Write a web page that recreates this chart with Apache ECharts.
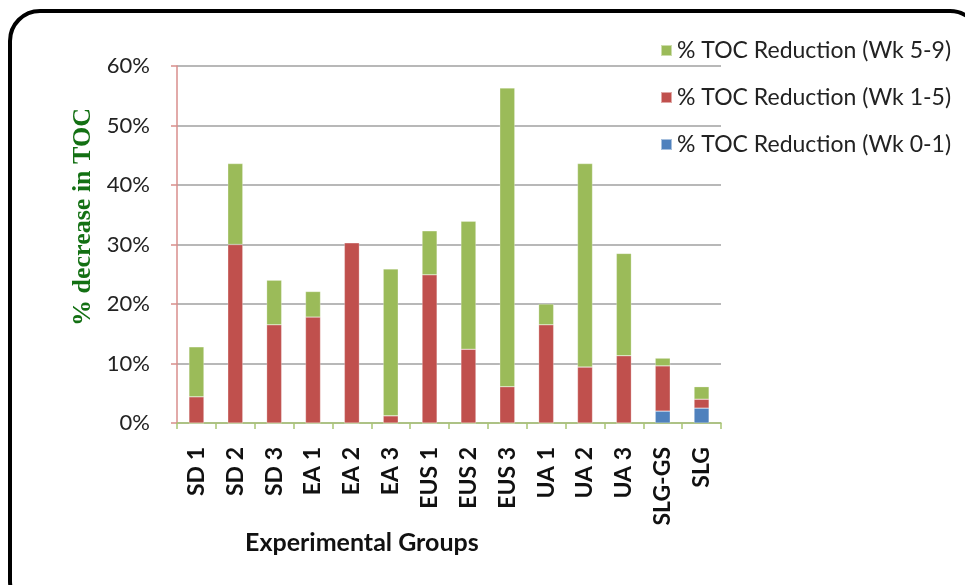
<!DOCTYPE html>
<html>
<head>
<meta charset="utf-8">
<script src="https://cdn.jsdelivr.net/npm/echarts@6/dist/echarts.min.js"></script>
<style>
  html, body { margin: 0; padding: 0; background: #fff; }
  #chart { width: 965px; height: 585px; }
</style>
</head>
<body>
<div id="chart"></div>
<script>
// groups along the x axis
const groups = ['SD 1', 'SD 2', 'SD 3', 'EA 1', 'EA 2', 'EA 3', 'EUS 1', 'EUS 2', 'EUS 3', 'UA 1', 'UA 2', 'UA 3', 'SLG-GS', 'SLG']

// stacked increments, in %
const wk01 = [0, 0, 0, 0, 0, 0, 0, 0, 0, 0, 0, 0, 2.0, 2.5]
const wk15 = [4.4, 30.0, 16.5, 17.8, 30.3, 1.2, 24.9, 12.4, 6.1, 16.5, 9.4, 11.3, 7.6, 1.5]
const wk59 = [8.4, 13.6, 7.5, 4.3, 0, 24.7, 7.4, 21.5, 50.2, 3.5, 34.2, 17.2, 1.3, 2.1]

const seriesNames = ['% TOC Reduction (Wk 0-1)', '% TOC Reduction (Wk 1-5)', '% TOC Reduction (Wk 5-9)']
const seriesColors = ['#4F81BD', '#C0504D', '#9BBB59']

const font = 'Lato, "Open Sans", sans-serif'

const chart = echarts.init(document.getElementById('chart'))

const makeBar = (name, data, color) => ({
  name,
  type: 'bar',
  stack: 'toc',
  data,
  barWidth: 15,
  itemStyle: { color, borderColor: 'rgba(255,255,255,0.5)', borderWidth: 0.5 }
})

const option = {
  animation: false,
  backgroundColor: '#fff',
  graphic: [
    {
      type: 'rect',
      shape: { x: 10, y: 11, width: 970, height: 600, r: 30 },
      style: { fill: 'none', stroke: '#000', lineWidth: 4 },
      z: 100
    },
    {
      type: 'text',
      left: 245,
      top: 530,
      style: {
        text: 'Experimental Groups',
        font: 'bold 25px ' + font,
        fill: '#111'
      }
    },
    {
      // rotated y axis title, placed a bit above the axis middle like the original
      type: 'text',
      x: 83,
      y: 217,
      rotation: Math.PI / 2,
      style: {
        text: '% decrease in TOC',
        font: 'bold 26px "Liberation Serif", "DejaVu Serif", serif',
        fill: '#137013',
        align: 'center',
        verticalAlign: 'middle'
      }
    }
  ],
  legend: {
    orient: 'vertical',
    left: 655,
    top: 34,
    itemGap: 24,
    itemWidth: 11,
    itemHeight: 11,
    icon: 'rect',
    data: [seriesNames[2], seriesNames[1], seriesNames[0]],
    textStyle: { fontSize: 23, color: '#222', fontFamily: font }
  },
  grid: { left: 177, right: 244, top: 66, bottom: 162 },
  xAxis: {
    type: 'category',
    data: groups,
    axisLine: { lineStyle: { color: '#A9C574', width: 1.5 } },
    axisTick: { show: true, length: 6, lineStyle: { color: '#A9C574', width: 1.5 } },
    axisLabel: {
      rotate: 90,
      margin: 24,
      fontSize: 23,
      fontWeight: 'bold',
      color: '#111',
      fontFamily: font
    }
  },
  yAxis: {
    type: 'value',
    min: 0,
    max: 60,
    interval: 10,
    axisLine: { show: true, lineStyle: { color: '#D88E8C', width: 1.5 } },
    axisTick: { show: true, length: 6, lineStyle: { color: '#D88E8C', width: 1.5 } },
    axisLabel: {
      formatter: '{value}%',
      margin: 27,
      fontSize: 22,
      color: '#222',
      fontFamily: font
    },
    splitLine: { lineStyle: { color: '#A0A0A0', width: 1.5 } }
  },
  series: [
    makeBar(seriesNames[0], wk01, seriesColors[0]),
    makeBar(seriesNames[1], wk15, seriesColors[1]),
    makeBar(seriesNames[2], wk59, seriesColors[2])
  ]
}

chart.setOption(option)
</script>
</body>
</html>
